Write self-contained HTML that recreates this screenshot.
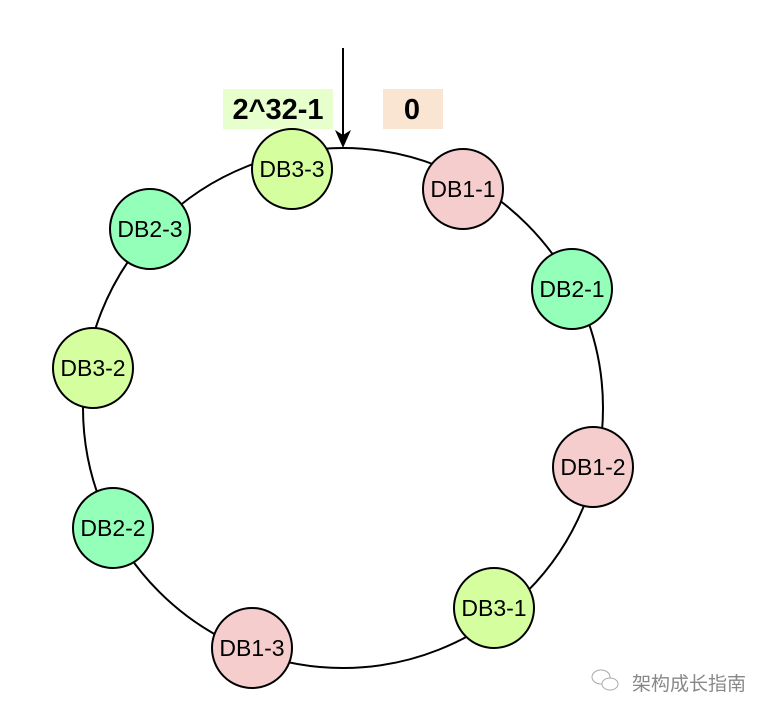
<!DOCTYPE html>
<html><head><meta charset="utf-8"><style>
html,body{margin:0;padding:0;background:#fff;width:768px;height:714px;overflow:hidden}
svg{display:block}
text{font-family:"Liberation Sans",Helvetica,Arial,sans-serif}
</style></head><body>
<svg width="768" height="714" viewBox="0 0 768 714">
<circle cx="343" cy="408" r="260" fill="none" stroke="#000" stroke-width="2"/>
<rect x="223" y="89" width="110" height="40" fill="#e6ffcc"/>
<text x="278" y="119" text-anchor="middle" font-size="29" font-weight="bold">2^32-1</text>
<rect x="383" y="89" width="60" height="40" fill="#fae5d3"/>
<text x="412" y="119" text-anchor="middle" font-size="29" font-weight="bold">0</text>
<line x1="343" y1="48" x2="343" y2="135" stroke="#000" stroke-width="2"/>
<path d="M335,130 L343,148 L351,130 L343,135 Z" fill="#000"/>
<g stroke="#000" stroke-width="2">
<circle cx="292" cy="169" r="40" fill="#d5ff9f"/>
<circle cx="463" cy="189" r="40" fill="#f6cdcd"/>
<circle cx="572" cy="289" r="40" fill="#93ffb9"/>
<circle cx="593" cy="467" r="40" fill="#f6cdcd"/>
<circle cx="494" cy="608" r="40" fill="#d5ff9f"/>
<circle cx="252" cy="648" r="40" fill="#f6cdcd"/>
<circle cx="113" cy="528" r="40" fill="#93ffb9"/>
<circle cx="93" cy="368" r="40" fill="#d5ff9f"/>
<circle cx="150" cy="229" r="40" fill="#93ffb9"/>
</g>
<g font-size="23" text-anchor="middle">
<text x="292" y="177">DB3-3</text>
<text x="463" y="197">DB1-1</text>
<text x="572" y="297">DB2-1</text>
<text x="593" y="475">DB1-2</text>
<text x="494" y="616">DB3-1</text>
<text x="252" y="656">DB1-3</text>
<text x="113" y="536">DB2-2</text>
<text x="93" y="376">DB3-2</text>
<text x="150" y="237">DB2-3</text>
</g>
<g fill="none" stroke="#aaa" stroke-width="1">
<ellipse cx="601" cy="677" rx="9" ry="7"/>
<ellipse cx="610" cy="684" rx="8" ry="6" fill="#fff"/>
</g>
<text x="632" y="690" font-size="19" fill="#888" style='font-family:"Liberation Sans","Noto Sans CJK SC",sans-serif'>架构成长指南</text>
</svg>
</body></html>
